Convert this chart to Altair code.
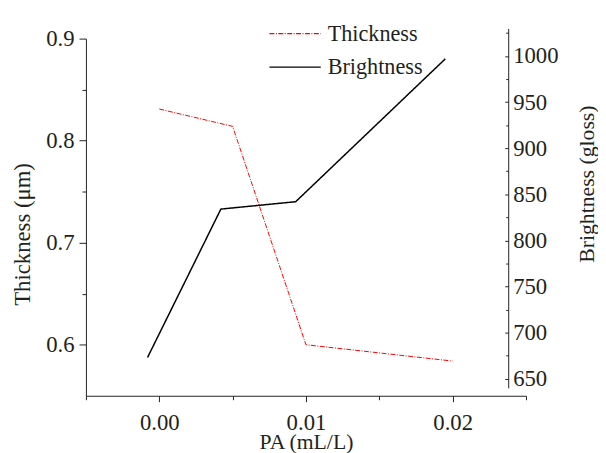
import altair as alt
import pandas as pd

# Data
series_names = ["Thickness", "Brightness"]
thick_x = [0.0, 0.005, 0.01, 0.02]
thick_y = [0.831, 0.814, 0.600, 0.584]
bright_x = [-0.0008, 0.0042, 0.0093, 0.0195]
bright_y = [673, 834, 842, 997]

x_ticks = [-0.005, 0.0, 0.005, 0.01, 0.015, 0.02, 0.025]
left_ticks = [0.6, 0.65, 0.7, 0.75, 0.8, 0.85, 0.9]
right_ticks = [650, 675, 700, 725, 750, 775, 800, 825, 850, 875, 900, 925, 950, 975, 1000, 1025]

df = pd.DataFrame(
    {
        "series": ["Thickness"] * len(thick_x) + ["Brightness"] * len(bright_x),
        "x": thick_x + bright_x,
        "value": thick_y + bright_y,
    }
)

FONT = "Liberation Serif"
TXT = "#231f20"
W, H = 446, 373

legend = alt.Legend(
    title=None,
    orient="none",
    legendX=198,
    legendY=-8,
    padding=0,
    symbolType="M-2,0H2",
    symbolSize=676,
    symbolStrokeWidth=1.3,
    labelOffset=19,
    rowPadding=8,
    labelFont=FONT,
    labelFontSize=22.5,
    labelColor=TXT,
)

color = alt.Color(
    "series:N",
    scale=alt.Scale(domain=series_names, range=["#ff0000", "#000000"]),
    legend=legend,
)
dash = alt.StrokeDash(
    "series:N",
    scale=alt.Scale(domain=series_names, range=[[5, 1.5, 1, 1.5], [1, 0]]),
    legend=legend,
)

x_minor = "abs(datum.value*100 - round(datum.value*100)) > 0.01"
x_enc = alt.X(
    "x:Q",
    scale=alt.Scale(domain=[-0.005, 0.025], nice=False, zero=False),
    axis=alt.Axis(
        values=x_ticks,
        title="PA (mL/L)",
        labelExpr=f"{x_minor} ? '' : format(datum.value, '.2f')",
        tickSize={"condition": {"test": x_minor, "value": 4}, "value": 6},
        labelPadding=10,
        titleFontSize=22,
        titleY=53,
        titleBaseline="alphabetic",
    ),
)

l_minor = "abs(datum.value*10 - round(datum.value*10)) > 0.01"
thick = (
    alt.Chart(df)
    .transform_filter("datum.series == 'Thickness'")
    .mark_line(strokeWidth=1)
    .encode(
        x=x_enc,
        y=alt.Y(
            "value:Q",
            scale=alt.Scale(domain=[0.55, 0.9], range=[H, 11], nice=False, zero=False),
            axis=alt.Axis(
                orient="left",
                values=left_ticks,
                title="Thickness (\u03bcm)",
                labelExpr=f"{l_minor} ? '' : format(datum.value, '.1f')",
                tickSize={"condition": {"test": l_minor, "value": 4}, "value": 7},
                labelPadding=5,
                titleAngle=270,
                titleX=-64,
                titleY=209,
                titleBaseline="middle",
                titleAlign="center",
            ),
        ),
        color=color,
        strokeDash=dash,
    )
)

r_minor = "datum.value % 50 != 0"
bright = (
    alt.Chart(df)
    .transform_filter("datum.series == 'Brightness'")
    .mark_line(strokeWidth=1.5)
    .encode(
        x=x_enc,
        y=alt.Y(
            "value:Q",
            scale=alt.Scale(domain=[640, 1030], range=[365, 0.7], nice=False, zero=False),
            axis=alt.Axis(
                orient="left",
                offset=-428,
                values=right_ticks,
                title="Brightness (gloss)",
                labelExpr=f"{r_minor} ? '' : format(datum.value, 'd')",
                labelAlign="left",
                tickSize={"condition": {"test": r_minor, "value": 2.5}, "value": 3.5},
                labelPadding=-8,
                titleFontSize=22,
                titleAngle=270,
                titleX=79,
                titleY=158,
                titleBaseline="middle",
                titleAlign="center",
            ),
        ),
        color=color,
        strokeDash=dash,
    )
)

chart = (
    alt.layer(thick, bright)
    .resolve_scale(y="independent")
    .properties(
        width=W,
        height=H,
        autosize=alt.AutoSizeParams(type="none"),
        padding={"left": 79, "top": 17, "right": 73, "bottom": 56},
    )
    .configure_view(stroke=None)
    .configure_axis(
        grid=False,
        labelFont=FONT,
        labelFontSize=23,
        labelColor=TXT,
        titleFont=FONT,
        titleFontSize=23,
        titleFontWeight="normal",
        titleColor=TXT,
        domainColor="#222222",
        tickColor="#222222",
        domainWidth=1,
        tickWidth=1,
    )
)

chart.save("out.html", embed_options={"renderer": "svg", "actions": False})
